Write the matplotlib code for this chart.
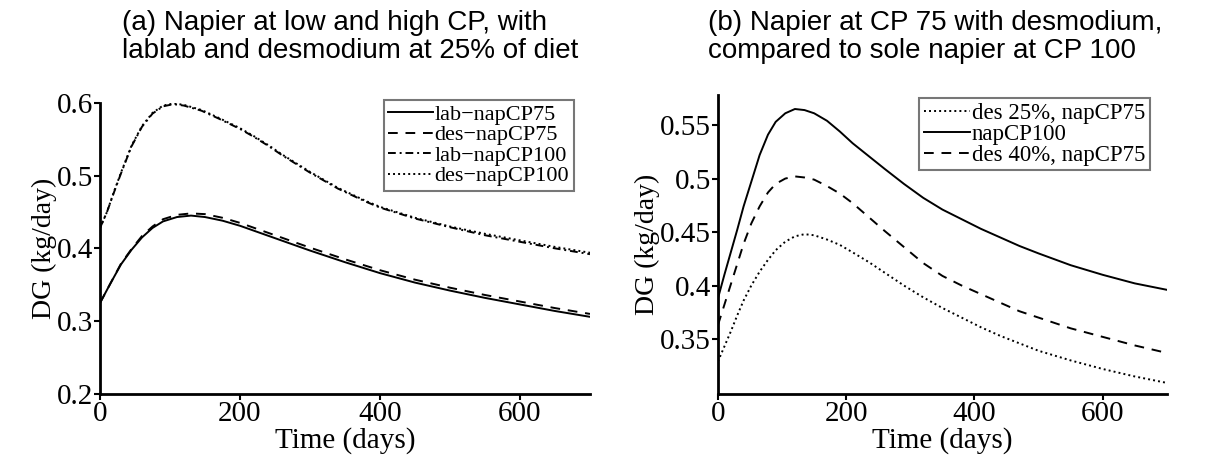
import numpy as np
import matplotlib
matplotlib.use('Agg')
import matplotlib.pyplot as plt

# ---- panel (a): napier at CP75 / CP100 with lablab or desmodium at 25%
t_a_low = [0, 15, 30, 45, 60, 75, 90, 110, 130, 150, 175, 200, 250, 300, 350,
           400, 450, 500, 550, 600, 650, 700]
lab_cp75 = [0.325, 0.352, 0.378, 0.398, 0.415, 0.428, 0.437, 0.443, 0.445, 0.443,
            0.438, 0.431, 0.414, 0.397, 0.381, 0.366, 0.353, 0.342, 0.332, 0.323,
            0.314, 0.306]
des_cp75 = [0.325, 0.352, 0.379, 0.399, 0.417, 0.430, 0.440, 0.446, 0.448, 0.447,
            0.442, 0.435, 0.418, 0.401, 0.385, 0.370, 0.357, 0.346, 0.336, 0.327,
            0.318, 0.310]

t_a_high = [0, 10, 20, 30, 45, 60, 75, 90, 105, 120, 145, 170, 200, 220, 240, 260,
            280, 300, 320, 340, 360, 380, 400, 450, 500, 550, 600, 650, 700]
lab_cp100 = [0.428, 0.450, 0.477, 0.503, 0.540, 0.567, 0.585, 0.595, 0.598, 0.596,
             0.589, 0.578, 0.564, 0.553, 0.541, 0.528, 0.516, 0.504, 0.493, 0.482,
             0.473, 0.464, 0.456, 0.441, 0.429, 0.418, 0.409, 0.400, 0.392]
des_cp100 = [0.428, 0.450, 0.478, 0.504, 0.541, 0.568, 0.586, 0.596, 0.599, 0.597,
             0.590, 0.579, 0.565, 0.554, 0.542, 0.529, 0.517, 0.505, 0.494, 0.483,
             0.474, 0.465, 0.457, 0.442, 0.430, 0.420, 0.411, 0.402, 0.394]

# ---- panel (b): desmodium with napier CP75 vs sole napier CP100
t_b = [0, 10, 20, 30, 40, 52, 65, 78, 90, 105, 120, 135, 150, 170, 190, 210, 235,
       260, 290, 320, 350, 380, 410, 440, 470, 500, 550, 600, 650, 700]
nap_cp100 = [0.388, 0.410, 0.431, 0.452, 0.474, 0.497, 0.522, 0.541, 0.553, 0.561,
             0.565, 0.564, 0.561, 0.554, 0.544, 0.533, 0.521, 0.509, 0.495, 0.482,
             0.471, 0.462, 0.453, 0.445, 0.437, 0.430, 0.419, 0.410, 0.402, 0.396]
des40_cp75 = [0.363, 0.382, 0.401, 0.420, 0.439, 0.458, 0.474, 0.487, 0.495, 0.500,
              0.502, 0.501, 0.499, 0.493, 0.486, 0.477, 0.464, 0.451, 0.436, 0.421,
              0.409, 0.400, 0.392, 0.384, 0.376, 0.370, 0.360, 0.352, 0.344, 0.337]
des25_cp75 = [0.329, 0.343, 0.357, 0.372, 0.386, 0.400, 0.413, 0.424, 0.433, 0.441,
              0.446, 0.448, 0.447, 0.443, 0.438, 0.431, 0.422, 0.412, 0.400, 0.389,
              0.379, 0.370, 0.361, 0.353, 0.346, 0.339, 0.330, 0.322, 0.315, 0.309]

yticks_a = [0.2, 0.3, 0.4, 0.5, 0.6]
ylabels_a = ['0.2', '0.3', '0.4', '0.5', '0.6']
yticks_b = [0.35, 0.4, 0.45, 0.5, 0.55]
ylabels_b = ['0.35', '0.4', '0.45', '0.5', '0.55']
xticks = [0, 200, 400, 600]

plt.rcParams['font.family'] = 'Liberation Serif'

fig = plt.figure(figsize=(12.21, 4.55), dpi=100)
ax1 = fig.add_axes([0.0819, 0.134, 0.4013, 0.6403])
ax2 = fig.add_axes([0.588, 0.134, 0.3677, 0.657])

lw = 1.4
ax1.plot(t_a_low, lab_cp75, color='black', lw=lw, label='lab\u2212napCP75')
ax1.plot(t_a_low, des_cp75, color='black', lw=lw, dashes=(5, 4), label='des\u2212napCP75')
ax1.plot(t_a_high, lab_cp100, color='black', lw=lw, dashes=(4, 2, 1, 2), label='lab\u2212napCP100')
ax1.plot(t_a_high, des_cp100, color='black', lw=lw, dashes=(1, 1.6), label='des\u2212napCP100')

ax2.plot(t_b, des25_cp75, color='black', lw=lw, dashes=(1, 1.6), label='des 25%, napCP75')
ax2.plot(t_b, nap_cp100, color='black', lw=lw, label='napCP100')
ax2.plot(t_b, des40_cp75, color='black', lw=lw, dashes=(5, 4), label='des 40%, napCP75')

ax1.set_ylim(0.2, 0.6)
ax2.set_ylim(0.2986, 0.578)
for ax, yt, yl in [(ax1, yticks_a, ylabels_a), (ax2, yticks_b, ylabels_b)]:
    ax.set_xlim(0, 700)
    ax.set_xticks(xticks)
    ax.set_xticklabels([str(x) for x in xticks])
    ax.set_yticks(yt)
    ax.set_yticklabels(yl)
    for s in ['top', 'right']:
        ax.spines[s].set_visible(False)
    for s in ['left', 'bottom']:
        ax.spines[s].set_linewidth(2.0)
    ax.tick_params(direction='out', length=4, width=1.5, labelsize=21, pad=1)
    ax.set_xlabel('Time (days)', fontsize=21, labelpad=0)
    ax.set_ylabel('DG (kg/day)', fontsize=20, labelpad=0)

leg1 = ax1.legend(loc='upper right', bbox_to_anchor=(0.967, 1.01), fontsize=16,
                  handlelength=2.0, handletextpad=0.1, labelspacing=0.0,
                  borderpad=0.2, borderaxespad=0, fancybox=False, framealpha=1)
leg2 = ax2.legend(loc='upper right', bbox_to_anchor=(0.962, 0.99), fontsize=16.5,
                  handlelength=2.0, handletextpad=0.1, labelspacing=0.0,
                  borderpad=0.2, borderaxespad=0, fancybox=False, framealpha=1)
for leg in (leg1, leg2):
    leg.get_frame().set_edgecolor('#777777')
    leg.get_frame().set_linewidth(1.5)

title_font = dict(family='Liberation Sans', fontsize=20, va='top', ha='left', linespacing=1.1)
fig.text(122 / 1221, 1 - 10 / 455,
         '(a) Napier at low and high CP, with\nlablab and desmodium at 25% of diet', **title_font)
fig.text(708 / 1221, 1 - 10 / 455,
         '(b) Napier at CP 75 with desmodium,\ncompared to sole napier at CP 100', **title_font)

fig.savefig('out.png', dpi=100)
